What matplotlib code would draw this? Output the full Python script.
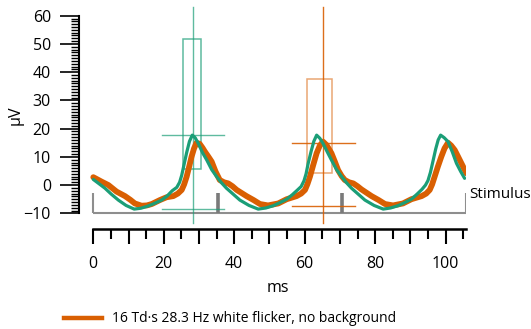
import matplotlib
matplotlib.use("Agg")
import matplotlib.pyplot as plt
from matplotlib.lines import Line2D
from matplotlib.patches import Rectangle
from matplotlib.ticker import FixedLocator, FuncFormatter

plt.rcParams["font.family"] = ["Open Sans", "DejaVu Sans"]

GREEN = "#1b9e77"
ORANGE = "#d95f02"
GREY = "#8e8e8e"

# response traces (ms, µV)
green_t = [0, 1.5, 3.3, 5.1, 7.1, 9.3, 11.6, 13.5, 15.6, 17.5, 19.4, 21.0, 22.4, 23.7,
           24.5, 25.1, 25.8, 26.5, 27.3, 28.1, 28.9, 29.8, 31.0, 32.2, 33.6,
           35.0, 36.4, 37.8, 39.7, 41.6, 44.2, 46.8, 49.0, 51.1, 53.0, 54.9, 56.5, 57.9, 59.0,
           59.8, 60.4, 61.0, 61.8, 62.6, 63.4, 64.3, 65.2, 66.4, 67.6, 69.0,
           70.5, 71.9, 73.3, 75.2, 77.1, 79.7, 82.3, 84.4, 86.5, 88.4, 90.3, 91.9, 93.3, 94.3,
           95.0, 95.7, 96.5, 97.2, 97.9, 98.6, 99.6, 100.7, 101.9, 103.1, 104.3, 105.4]
green_v = [2.0, 0.6, -1.1, -3.2, -5.3, -7.2, -8.5, -8.2, -7.4, -6.4, -5.3, -3.8, -2.0, -0.8,
           1.0, 3.5, 7.5, 11.5, 15.5, 17.7, 16.8, 14.8, 11.5, 8.9, 5.5,
           3.0, 0.8, -1.1, -3.2, -5.3, -7.2, -8.5, -8.1, -7.3, -6.2, -5.0, -3.4, -1.8, -0.5,
           1.5, 4.0, 7.7, 11.8, 15.5, 17.7, 16.6, 14.8, 11.8, 8.9, 5.6,
           3.0, 0.8, -1.1, -3.2, -5.3, -7.2, -8.5, -8.1, -7.3, -6.2, -5.0, -3.2, -1.5, 0.0,
           1.6, 4.5, 8.9, 12.8, 16.0, 17.7, 16.8, 15.4, 11.8, 7.7, 4.8, 2.4]

orange_t = [0, 2.4, 4.3, 6.6, 9.0, 10.5, 11.8, 13.7, 15.2, 16.6, 18.9, 20.8, 22.7, 24.0,
            25.1, 25.8, 26.5, 27.2, 27.9, 28.6, 29.3, 30.2, 31.0, 31.7, 32.7, 33.6, 34.7,
            35.9, 37.1, 38.3, 39.5, 40.7, 43.5, 45.5, 47.3, 49.6, 52.5, 54.9, 57.7, 59.0, 60.1,
            60.8, 61.5, 62.4, 63.4, 64.3, 65.2, 66.2, 67.6, 68.6, 69.5, 70.5,
            71.4, 72.6, 73.8, 75.0, 76.1, 79.0, 81.0, 82.8, 85.1, 87.9, 90.3,
            93.2, 94.5, 95.5, 96.2, 96.9, 97.8, 98.8, 99.7, 100.7, 101.6, 102.6, 103.5, 104.5,
            105.9]
orange_v = [2.8, 1.2, 0.0, -2.3, -3.9, -5.2, -6.5, -7.3, -7.2, -6.7, -5.3, -4.3, -3.9, -3.0,
            -1.7, 0.3, 3.0, 6.5, 10.1, 13.0, 15.0, 14.6, 13.2, 11.8, 10.0, 8.3, 4.8,
            1.8, 1.0, 0.6, -0.4, -1.7, -3.9, -5.3, -6.7, -7.2, -6.5, -5.0, -3.9, -3.0, -1.7,
            0.4, 3.0, 7.0, 11.3, 14.0, 15.4, 14.2, 11.3, 8.2, 5.3, 3.2,
            1.8, 1.0, 0.6, -0.4, -1.5, -3.9, -5.3, -6.7, -7.2, -6.5, -5.0,
            -3.9, -3.0, -1.7, 0.3, 3.0, 6.5, 10.1, 13.0, 15.0, 14.0, 12.4, 10.2, 7.7,
            4.2]

# stimulus timing
stim_times = [0, 35.3, 70.6, 105.9]
stim_base = -10
stim_top = -2.9

# peak summary markers: time, box x, box y, cross y, cross x-span
peaks = {
    GREEN: dict(t=28.2, box_x=(25.5, 30.6), box_y=(5.8, 51.6),
                hlines=(17.6, -8.6), span=(19.4, 37.2)),
    ORANGE: dict(t=65.3, box_x=(60.8, 67.8), box_y=(4.3, 37.6),
                 hlines=(15.0, -7.5), span=(56.4, 74.2)),
}
vline_range = (-13.3, 63.2)

legend_label = "16 Td·s 28.3 Hz white flicker, no background"

fig = plt.figure(figsize=(5.31, 3.29), dpi=100)
ax = fig.add_axes([79 / 531, 1 - 229 / 329, (466 - 79) / 531, 224 / 329])
ax.set_xlim(-4.06, 105.8)
ax.set_ylim(-15.55, 63.8)

# stimulus trace
ax.plot([stim_times[0], stim_times[-1]], [stim_base, stim_base], color=GREY, lw=1.5,
        solid_capstyle="butt", zorder=1)
for i, t in enumerate(stim_times):
    inner = 0 < i < len(stim_times) - 1
    ax.plot([t, t], [stim_base, stim_top], color="#7a7a7a" if inner else GREY,
            lw=2.6 if inner else 1.5, solid_capstyle="butt", zorder=1)
ax.text(106.7, -3.5, "Stimulus", fontsize=11, va="center", ha="left", clip_on=False)

# peak markers
for col, p in peaks.items():
    alpha_box = 0.7 if col == GREEN else 0.55
    alpha_ln = 0.7 if col == GREEN else 0.9
    ax.add_patch(Rectangle((p["box_x"][0], p["box_y"][0]), p["box_x"][1] - p["box_x"][0],
                           p["box_y"][1] - p["box_y"][0], fill=False, ec=col, lw=1.1,
                           alpha=alpha_box, zorder=2))
    ax.plot([p["t"], p["t"]], vline_range, color=col, lw=1.0, alpha=alpha_ln, zorder=2)
    for h in p["hlines"]:
        ax.plot(p["span"], [h, h], color=col, lw=1.0, alpha=alpha_ln, zorder=2)

ax.plot(orange_t, orange_v, color=ORANGE, lw=4.2, solid_joinstyle="round",
        solid_capstyle="round", zorder=3)
ax.plot(green_t, green_v, color=GREEN, lw=2.3, solid_joinstyle="round",
        solid_capstyle="round", zorder=4)

# axes styling
for s in ("top", "right"):
    ax.spines[s].set_visible(False)
ax.spines["left"].set_bounds(-10, 60)
ax.spines["left"].set_linewidth(1.5)
ax.spines["bottom"].set_bounds(0, 105.8)
ax.spines["bottom"].set_linewidth(1.8)

ax.yaxis.set_major_locator(FixedLocator(range(-10, 61, 10)))
ax.yaxis.set_minor_locator(FixedLocator([v for v in range(-10, 61) if v % 10]))
ax.tick_params(axis="y", which="major", length=13.7, width=1.2, pad=6.5, labelsize=11.5)
ax.tick_params(axis="y", which="minor", length=5.8, width=1.0)

ax.xaxis.set_major_locator(FixedLocator(range(0, 101, 10)))
ax.xaxis.set_minor_locator(FixedLocator(range(5, 106, 10)))
ax.xaxis.set_major_formatter(FuncFormatter(lambda v, _: f"{v:.0f}" if v % 20 == 0 else ""))
ax.tick_params(axis="x", which="major", length=11, width=1.5, pad=8.5, labelsize=11.5)
ax.tick_params(axis="x", which="minor", length=7.5, width=1.5)

ax.set_xlabel("ms", fontsize=11.5)
ax.xaxis.set_label_coords((277.7 - 79) / 387, -(288 - 229) / 224)
ax.xaxis.label.set_va("center")
ax.set_ylabel("µV", fontsize=11.5)
ax.yaxis.set_label_coords((15.5 - 79) / 387, (229 - 115) / 224)
ax.yaxis.label.set_va("center")

# legend
fig.add_artist(Line2D([63.7 / 531, 101.6 / 531], [1 - 318 / 329] * 2, color=ORANGE, lw=3.2))
fig.text(111.7 / 531, 1 - 318 / 329, legend_label, fontsize=10, va="center", ha="left")

fig.savefig("out.png", dpi=100)
